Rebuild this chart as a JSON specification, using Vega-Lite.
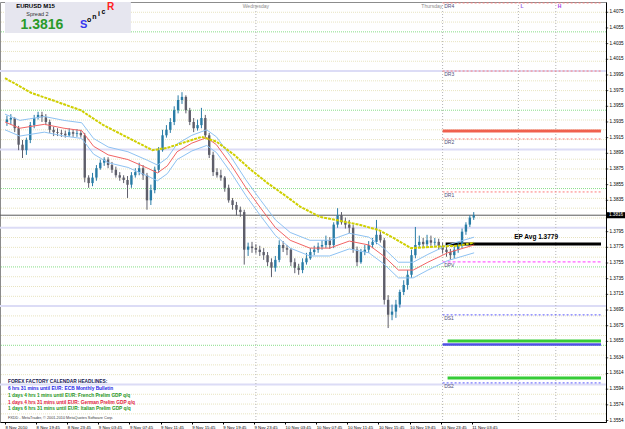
{
"$schema": "https://vega.github.io/schema/vega-lite/v6.json",
"width": 606, "height": 420,
"autosize": {"type": "none"},
"padding": {"left": 0, "top": 2, "right": 19, "bottom": 7},
"background": "white",
"config": {"view": {"stroke": "#8c8c8c", "strokeWidth": 1}, "font": "Liberation Sans",
  "axis": {"labelOverlap": false, "labelSeparation": 0, "labelBound": false, "labelFlush": false}},
"datasets": {
"hl": [
{"p":1.35625,"k":"q"},{"p":1.3575,"k":"q"},{"p":1.35875,"k":"q"},{"p":1.36125,"k":"q"},{"p":1.3625,"k":"q"},{"p":1.36375,"k":"q"},{"p":1.36625,"k":"q"},{"p":1.3675,"k":"q"},{"p":1.36875,"k":"q"},{"p":1.37125,"k":"q"},{"p":1.3725,"k":"q"},{"p":1.37375,"k":"q"},{"p":1.37625,"k":"q"},{"p":1.3775,"k":"q"},{"p":1.37875,"k":"q"},{"p":1.38125,"k":"q"},{"p":1.3825,"k":"q"},{"p":1.38375,"k":"q"},{"p":1.38625,"k":"q"},{"p":1.3875,"k":"q"},{"p":1.38875,"k":"q"},{"p":1.39125,"k":"q"},{"p":1.3925,"k":"q"},{"p":1.39375,"k":"q"},{"p":1.39625,"k":"q"},{"p":1.3975,"k":"q"},{"p":1.39875,"k":"q"},{"p":1.40125,"k":"q"},{"p":1.4025,"k":"q"},{"p":1.40375,"k":"q"},{"p":1.40625,"k":"q"},{"p":1.4075,"k":"q"},
{"p":1.3650,"k":"g"},{"p":1.3750,"k":"g"},{"p":1.3850,"k":"g"},{"p":1.3950,"k":"g"},{"p":1.4050,"k":"g"},
{"p":1.3600,"k":"v"},{"p":1.3700,"k":"v"},{"p":1.3800,"k":"v"},{"p":1.3900,"k":"v"},{"p":1.4000,"k":"v"},
{"p":1.3816,"k":"bid"}
],
"pl": [
{"p":1.40869,"t0":72,"k":"dr"},{"p":1.4000,"t0":72,"k":"dr"},{"p":1.39133,"t0":72,"k":"dr"},{"p":1.38457,"t0":72,"k":"dr"},
{"p":1.37564,"t0":72,"k":"dp"},{"p":1.36888,"t0":72,"k":"ds"},{"p":1.3602,"t0":72,"k":"ds"},
{"p":1.39235,"t0":72,"k":"sal"},{"p":1.3651,"t0":72,"k":"blu"},
{"p":1.36556,"t0":72.64,"k":"grn"},{"p":1.36084,"t0":72.64,"k":"grn"},
{"p":1.37794,"t0":72.39,"k":"blk"}
],
"vl": [{"t":48},{"t":72},{"t":81.74},{"t":86.55}],
"plab": [
{"t":72.2,"p":1.40869,"s":"DR4"},{"t":72.2,"p":1.4000,"s":"DR3"},{"t":72.2,"p":1.39133,"s":"DR2"},{"t":72.2,"p":1.38457,"s":"DR1"},
{"t":72.2,"p":1.37564,"s":"DPV"},{"t":72.2,"p":1.36888,"s":"DS1"},{"t":72.2,"p":1.3602,"s":"DS2"}
],
"yticks": [
{"p":1.3554},{"p":1.3574},{"p":1.3594},{"p":1.3614},{"p":1.3634},{"p":1.3655},{"p":1.3675},{"p":1.3695},{"p":1.3715},{"p":1.3735},{"p":1.3755},{"p":1.3775},{"p":1.3795},{"p":1.3835},{"p":1.3855},{"p":1.3875},{"p":1.3895},{"p":1.3915},{"p":1.3935},{"p":1.3955},{"p":1.3975},{"p":1.3995},{"p":1.4015},{"p":1.4035},{"p":1.4055},{"p":1.4075}
],
"candles": [
{"t":16.0,"o":1.3935,"h":1.3943,"l":1.3930,"c":1.3938},
{"t":16.5,"o":1.3938,"h":1.3945,"l":1.3932,"c":1.3940},
{"t":17.0,"o":1.3940,"h":1.3941,"l":1.3922,"c":1.3927},
{"t":17.5,"o":1.3927,"h":1.3930,"l":1.3899,"c":1.3906},
{"t":18.0,"o":1.3906,"h":1.3912,"l":1.3889,"c":1.3899},
{"t":18.5,"o":1.3899,"h":1.3915,"l":1.3893,"c":1.3912},
{"t":19.0,"o":1.3912,"h":1.3935,"l":1.3908,"c":1.3931},
{"t":19.5,"o":1.3931,"h":1.3944,"l":1.3927,"c":1.3940},
{"t":20.0,"o":1.3940,"h":1.3948,"l":1.3938,"c":1.3944},
{"t":20.5,"o":1.3944,"h":1.3948,"l":1.3935,"c":1.3941},
{"t":21.0,"o":1.3941,"h":1.3945,"l":1.3931,"c":1.3935},
{"t":21.5,"o":1.3935,"h":1.3938,"l":1.3921,"c":1.3925},
{"t":22.0,"o":1.3925,"h":1.3929,"l":1.3917,"c":1.3922},
{"t":22.5,"o":1.3922,"h":1.3927,"l":1.3917,"c":1.3921},
{"t":23.0,"o":1.3921,"h":1.3925,"l":1.3916,"c":1.3920},
{"t":23.5,"o":1.3920,"h":1.3924,"l":1.3915,"c":1.3918},
{"t":24.0,"o":1.3918,"h":1.3927,"l":1.3916,"c":1.3922},
{"t":24.5,"o":1.3922,"h":1.3926,"l":1.3916,"c":1.3920},
{"t":25.0,"o":1.3920,"h":1.3926,"l":1.3916,"c":1.3921},
{"t":25.5,"o":1.3921,"h":1.3925,"l":1.3915,"c":1.3918},
{"t":26.0,"o":1.3918,"h":1.3921,"l":1.3858,"c":1.3864},
{"t":26.5,"o":1.3864,"h":1.3867,"l":1.3851,"c":1.3857},
{"t":27.0,"o":1.3857,"h":1.3870,"l":1.3853,"c":1.3864},
{"t":27.5,"o":1.3864,"h":1.3880,"l":1.3860,"c":1.3876},
{"t":28.0,"o":1.3876,"h":1.3887,"l":1.3874,"c":1.3883},
{"t":28.5,"o":1.3883,"h":1.3890,"l":1.3879,"c":1.3887},
{"t":29.0,"o":1.3887,"h":1.3890,"l":1.3876,"c":1.3880},
{"t":29.5,"o":1.3880,"h":1.3884,"l":1.3870,"c":1.3874},
{"t":30.0,"o":1.3874,"h":1.3878,"l":1.3864,"c":1.3867},
{"t":30.5,"o":1.3867,"h":1.3871,"l":1.3860,"c":1.3864},
{"t":31.0,"o":1.3864,"h":1.3867,"l":1.3857,"c":1.3861},
{"t":31.5,"o":1.3861,"h":1.3866,"l":1.3838,"c":1.3855},
{"t":32.0,"o":1.3855,"h":1.3871,"l":1.3851,"c":1.3867},
{"t":32.5,"o":1.3867,"h":1.3876,"l":1.3864,"c":1.3871},
{"t":33.0,"o":1.3871,"h":1.3883,"l":1.3867,"c":1.3876},
{"t":33.5,"o":1.3876,"h":1.3880,"l":1.3861,"c":1.3867},
{"t":34.0,"o":1.3867,"h":1.3870,"l":1.3823,"c":1.3835},
{"t":34.5,"o":1.3835,"h":1.3855,"l":1.3829,"c":1.3848},
{"t":35.0,"o":1.3848,"h":1.3878,"l":1.3844,"c":1.3874},
{"t":35.5,"o":1.3874,"h":1.3903,"l":1.3870,"c":1.3899},
{"t":36.0,"o":1.3899,"h":1.3925,"l":1.3897,"c":1.3918},
{"t":36.5,"o":1.3918,"h":1.3931,"l":1.3915,"c":1.3925},
{"t":37.0,"o":1.3925,"h":1.3940,"l":1.3921,"c":1.3935},
{"t":37.5,"o":1.3935,"h":1.3955,"l":1.3931,"c":1.3950},
{"t":38.0,"o":1.3950,"h":1.3969,"l":1.3946,"c":1.3963},
{"t":38.5,"o":1.3963,"h":1.3973,"l":1.3958,"c":1.3967},
{"t":39.0,"o":1.3967,"h":1.3969,"l":1.3946,"c":1.3950},
{"t":39.5,"o":1.3950,"h":1.3953,"l":1.3931,"c":1.3935},
{"t":40.0,"o":1.3935,"h":1.3940,"l":1.3922,"c":1.3927},
{"t":40.5,"o":1.3927,"h":1.3938,"l":1.3924,"c":1.3931},
{"t":41.0,"o":1.3931,"h":1.3953,"l":1.3927,"c":1.3940},
{"t":41.5,"o":1.3940,"h":1.3944,"l":1.3915,"c":1.3918},
{"t":42.0,"o":1.3918,"h":1.3921,"l":1.3889,"c":1.3893},
{"t":42.5,"o":1.3893,"h":1.3897,"l":1.3866,"c":1.3871},
{"t":43.0,"o":1.3871,"h":1.3876,"l":1.3864,"c":1.3867},
{"t":43.5,"o":1.3867,"h":1.3874,"l":1.3860,"c":1.3864},
{"t":44.0,"o":1.3864,"h":1.3866,"l":1.3846,"c":1.3851},
{"t":44.5,"o":1.3851,"h":1.3855,"l":1.3832,"c":1.3835},
{"t":45.0,"o":1.3835,"h":1.3838,"l":1.3823,"c":1.3829},
{"t":45.5,"o":1.3829,"h":1.3833,"l":1.3816,"c":1.3823},
{"t":46.0,"o":1.3823,"h":1.3827,"l":1.3814,"c":1.3820},
{"t":46.5,"o":1.3820,"h":1.3823,"l":1.3753,"c":1.3772},
{"t":47.0,"o":1.3772,"h":1.3781,"l":1.3764,"c":1.3776},
{"t":47.5,"o":1.3776,"h":1.3782,"l":1.3768,"c":1.3774},
{"t":48.0,"o":1.3774,"h":1.3779,"l":1.3767,"c":1.3772},
{"t":48.5,"o":1.3772,"h":1.3777,"l":1.3764,"c":1.3769},
{"t":49.0,"o":1.3769,"h":1.3774,"l":1.3759,"c":1.3765},
{"t":49.5,"o":1.3765,"h":1.3769,"l":1.3751,"c":1.3756},
{"t":50.0,"o":1.3756,"h":1.3761,"l":1.3737,"c":1.3749},
{"t":50.5,"o":1.3749,"h":1.3764,"l":1.3744,"c":1.3759},
{"t":51.0,"o":1.3759,"h":1.3784,"l":1.3756,"c":1.3778},
{"t":51.5,"o":1.3778,"h":1.3783,"l":1.3769,"c":1.3774},
{"t":52.0,"o":1.3774,"h":1.3778,"l":1.3765,"c":1.3772},
{"t":52.5,"o":1.3772,"h":1.3774,"l":1.3751,"c":1.3756},
{"t":53.0,"o":1.3756,"h":1.3761,"l":1.3742,"c":1.3749},
{"t":53.5,"o":1.3749,"h":1.3754,"l":1.3740,"c":1.3746},
{"t":54.0,"o":1.3746,"h":1.3761,"l":1.3742,"c":1.3756},
{"t":54.5,"o":1.3756,"h":1.3768,"l":1.3753,"c":1.3761},
{"t":55.0,"o":1.3761,"h":1.3774,"l":1.3759,"c":1.3769},
{"t":55.5,"o":1.3769,"h":1.3777,"l":1.3765,"c":1.3772},
{"t":56.0,"o":1.3772,"h":1.3781,"l":1.3768,"c":1.3776},
{"t":56.5,"o":1.3776,"h":1.3784,"l":1.3772,"c":1.3778},
{"t":57.0,"o":1.3778,"h":1.3790,"l":1.3774,"c":1.3784},
{"t":57.5,"o":1.3784,"h":1.3788,"l":1.3773,"c":1.3778},
{"t":58.0,"o":1.3778,"h":1.3807,"l":1.3774,"c":1.3804},
{"t":58.5,"o":1.3804,"h":1.3825,"l":1.3800,"c":1.3816},
{"t":59.0,"o":1.3816,"h":1.3820,"l":1.3804,"c":1.3807},
{"t":59.5,"o":1.3807,"h":1.3813,"l":1.3799,"c":1.3804},
{"t":60.0,"o":1.3804,"h":1.3810,"l":1.3793,"c":1.3800},
{"t":60.5,"o":1.3800,"h":1.3804,"l":1.3768,"c":1.3772},
{"t":61.0,"o":1.3772,"h":1.3776,"l":1.3751,"c":1.3756},
{"t":61.5,"o":1.3756,"h":1.3773,"l":1.3754,"c":1.3769},
{"t":62.0,"o":1.3769,"h":1.3778,"l":1.3765,"c":1.3772},
{"t":62.5,"o":1.3772,"h":1.3783,"l":1.3768,"c":1.3778},
{"t":63.0,"o":1.3778,"h":1.3787,"l":1.3774,"c":1.3782},
{"t":63.5,"o":1.3782,"h":1.3810,"l":1.3779,"c":1.3791},
{"t":64.0,"o":1.3791,"h":1.3795,"l":1.3781,"c":1.3784},
{"t":64.5,"o":1.3784,"h":1.3787,"l":1.3702,"c":1.3708},
{"t":65.0,"o":1.3708,"h":1.3714,"l":1.3672,"c":1.3689},
{"t":65.5,"o":1.3689,"h":1.3702,"l":1.3682,"c":1.3693},
{"t":66.0,"o":1.3693,"h":1.3708,"l":1.3685,"c":1.3702},
{"t":66.5,"o":1.3702,"h":1.3721,"l":1.3698,"c":1.3718},
{"t":67.0,"o":1.3718,"h":1.3733,"l":1.3714,"c":1.3727},
{"t":67.5,"o":1.3727,"h":1.3746,"l":1.3721,"c":1.3740},
{"t":68.0,"o":1.3740,"h":1.3772,"l":1.3736,"c":1.3765},
{"t":68.5,"o":1.3765,"h":1.3801,"l":1.3761,"c":1.3778},
{"t":69.0,"o":1.3778,"h":1.3790,"l":1.3774,"c":1.3782},
{"t":69.5,"o":1.3782,"h":1.3787,"l":1.3774,"c":1.3779},
{"t":70.0,"o":1.3779,"h":1.3791,"l":1.3776,"c":1.3784},
{"t":70.5,"o":1.3784,"h":1.3790,"l":1.3777,"c":1.3781},
{"t":71.0,"o":1.3781,"h":1.3787,"l":1.3777,"c":1.3782},
{"t":71.5,"o":1.3782,"h":1.3786,"l":1.3772,"c":1.3777},
{"t":72.0,"o":1.3777,"h":1.3781,"l":1.3767,"c":1.3772},
{"t":72.5,"o":1.3772,"h":1.3777,"l":1.3763,"c":1.3769},
{"t":73.0,"o":1.3769,"h":1.3773,"l":1.3759,"c":1.3765},
{"t":73.5,"o":1.3765,"h":1.3777,"l":1.3761,"c":1.3772},
{"t":74.0,"o":1.3772,"h":1.3782,"l":1.3768,"c":1.3778},
{"t":74.5,"o":1.3778,"h":1.3799,"l":1.3774,"c":1.3795},
{"t":75.0,"o":1.3795,"h":1.3807,"l":1.3791,"c":1.3804},
{"t":75.5,"o":1.3804,"h":1.3816,"l":1.3801,"c":1.3813},
{"t":76.0,"o":1.3813,"h":1.3820,"l":1.3810,"c":1.3816}
],
"mid": [
{"t":15.75,"m":1.3935,"u":1.3945,"lo":1.3925},
{"t":17.65,"m":1.3927,"u":1.3937,"lo":1.3917},
{"t":18.91,"m":1.3929,"u":1.3939,"lo":1.3919},
{"t":20.81,"m":1.3932,"u":1.3942,"lo":1.3922},
{"t":23.34,"m":1.3927,"u":1.3937,"lo":1.3917},
{"t":25.61,"m":1.3924,"u":1.3934,"lo":1.3914},
{"t":27.13,"m":1.3904,"u":1.3914,"lo":1.3894},
{"t":29.02,"m":1.3893,"u":1.3903,"lo":1.3883},
{"t":31.55,"m":1.3887,"u":1.3897,"lo":1.3877},
{"t":34.08,"m":1.3876,"u":1.3886,"lo":1.3866},
{"t":35.35,"m":1.3870,"u":1.3880,"lo":1.3860},
{"t":36.61,"m":1.3879,"u":1.3889,"lo":1.3869},
{"t":37.87,"m":1.3897,"u":1.3907,"lo":1.3887},
{"t":39.77,"m":1.3908,"u":1.3918,"lo":1.3898},
{"t":41.67,"m":1.3915,"u":1.3925,"lo":1.3905},
{"t":42.93,"m":1.3906,"u":1.3916,"lo":1.3896},
{"t":44.83,"m":1.3880,"u":1.3890,"lo":1.3870},
{"t":46.72,"m":1.3851,"u":1.3861,"lo":1.3841},
{"t":48.62,"m":1.3825,"u":1.3835,"lo":1.3815},
{"t":50.52,"m":1.3800,"u":1.3810,"lo":1.3790},
{"t":52.41,"m":1.3784,"u":1.3794,"lo":1.3774},
{"t":54.94,"m":1.3774,"u":1.3784,"lo":1.3764},
{"t":57.47,"m":1.3774,"u":1.3784,"lo":1.3764},
{"t":60.00,"m":1.3783,"u":1.3793,"lo":1.3773},
{"t":62.53,"m":1.3778,"u":1.3788,"lo":1.3768},
{"t":64.42,"m":1.3764,"u":1.3774,"lo":1.3754},
{"t":66.32,"m":1.3746,"u":1.3756,"lo":1.3736},
{"t":68.22,"m":1.3746,"u":1.3756,"lo":1.3736},
{"t":70.11,"m":1.3756,"u":1.3766,"lo":1.3746},
{"t":72.64,"m":1.3768,"u":1.3778,"lo":1.3758},
{"t":76.05,"m":1.3778,"u":1.3788,"lo":1.3768}
],
"slow": [
{"t":15.75,"v":1.3991},{"t":19.16,"v":1.3972},{"t":22.07,"v":1.3962},{"t":25.48,"v":1.3950},{"t":28.39,"v":1.3931},
{"t":31.55,"v":1.3915},{"t":34.71,"v":1.3899},{"t":36.61,"v":1.3902},{"t":38.51,"v":1.3908},{"t":41.03,"v":1.3916},
{"t":42.93,"v":1.3910},{"t":45.21,"v":1.3893},{"t":47.36,"v":1.3874},{"t":49.50,"v":1.3857},{"t":51.78,"v":1.3841},
{"t":53.68,"v":1.3827},{"t":56.21,"v":1.3814},{"t":58.73,"v":1.3809},{"t":61.26,"v":1.3804},{"t":63.79,"v":1.3797},
{"t":65.69,"v":1.3787},{"t":67.96,"v":1.3774},{"t":71.38,"v":1.3776},{"t":73.90,"v":1.3777},{"t":76.05,"v":1.3781}
]
},
"layer": [
{"data": {"name": "hl"}, "transform": [{"filter": "datum.k == 'q'"}],
 "mark": {"type": "rule", "stroke": "#e8e4c0", "strokeWidth": 1, "strokeDash": [1, 1]},
 "encoding": {"y": {"field": "p", "type": "quantitative",
   "scale": {"domain": [1.35521, 1.40881], "nice": false, "zero": false},
   "axis": {"orient": "right", "title": null, "grid": false, "labels": false, "ticks": false, "domainColor": "#000000"}}}},
{"data": {"name": "yticks"},
 "mark": {"type": "tick", "orient": "horizontal", "color": "#000000", "size": 2.5, "thickness": 1, "xOffset": 1},
 "encoding": {"x": {"value": "width"}, "y": {"field": "p", "type": "quantitative"}}},
{"data": {"name": "yticks"},
 "mark": {"type": "text", "align": "left", "baseline": "middle", "dx": 3.5, "fontSize": 4.6, "color": "#000000"},
 "encoding": {"x": {"value": "width"}, "y": {"field": "p", "type": "quantitative"}, "text": {"field": "p", "type": "quantitative", "format": ".4f"}}},
{"data": {"name": "hl"}, "transform": [{"filter": "datum.k == 'g'"}],
 "mark": {"type": "rule", "stroke": "#88dd88", "strokeWidth": 1, "strokeDash": [1, 1]},
 "encoding": {"y": {"field": "p", "type": "quantitative"}}},
{"data": {"name": "hl"}, "transform": [{"filter": "datum.k == 'v'"}],
 "mark": {"type": "rule", "stroke": "#dcdcf6", "strokeWidth": 2},
 "encoding": {"y": {"field": "p", "type": "quantitative"}}},
{"data": {"name": "vl"},
 "mark": {"type": "rule", "stroke": "#b4b4b4", "strokeWidth": 1, "strokeDash": [1, 2]},
 "encoding": {"x": {"field": "t", "type": "quantitative"}}},
{"data": {"name": "pl"}, "transform": [{"filter": "datum.k == 'dr'"}],
 "mark": {"type": "rule", "stroke": "#ff7a7a", "strokeWidth": 1, "strokeDash": [2, 2]},
 "encoding": {"x": {"field": "t0", "type": "quantitative"}, "x2": {"datum": 92.36}, "y": {"field": "p", "type": "quantitative"}}},
{"data": {"name": "pl"}, "transform": [{"filter": "datum.k == 'dp'"}],
 "mark": {"type": "rule", "stroke": "#ff3cff", "strokeWidth": 1, "strokeDash": [3, 2]},
 "encoding": {"x": {"field": "t0", "type": "quantitative"}, "x2": {"datum": 92.36}, "y": {"field": "p", "type": "quantitative"}}},
{"data": {"name": "pl"}, "transform": [{"filter": "datum.k == 'ds'"}],
 "mark": {"type": "rule", "stroke": "#5a5aff", "strokeWidth": 1, "strokeDash": [2, 2]},
 "encoding": {"x": {"field": "t0", "type": "quantitative"}, "x2": {"datum": 92.36}, "y": {"field": "p", "type": "quantitative"}}},
{"data": {"name": "pl"}, "transform": [{"filter": "datum.k == 'sal'"}],
 "mark": {"type": "rule", "stroke": "#f0604e", "strokeWidth": 3},
 "encoding": {"x": {"field": "t0", "type": "quantitative"}, "x2": {"datum": 92.36}, "y": {"field": "p", "type": "quantitative"}}},
{"data": {"name": "pl"}, "transform": [{"filter": "datum.k == 'blu'"}],
 "mark": {"type": "rule", "stroke": "#4f4fe6", "strokeWidth": 2.5},
 "encoding": {"x": {"field": "t0", "type": "quantitative"}, "x2": {"datum": 92.36}, "y": {"field": "p", "type": "quantitative"}}},
{"data": {"name": "pl"}, "transform": [{"filter": "datum.k == 'grn'"}],
 "mark": {"type": "rule", "stroke": "#36cc36", "strokeWidth": 3},
 "encoding": {"x": {"field": "t0", "type": "quantitative"}, "x2": {"datum": 92.36}, "y": {"field": "p", "type": "quantitative"}}},
{"data": {"name": "pl"}, "transform": [{"filter": "datum.k == 'blk'"}],
 "mark": {"type": "rule", "stroke": "#000000", "strokeWidth": 3},
 "encoding": {"x": {"field": "t0", "type": "quantitative"}, "x2": {"datum": 92.36}, "y": {"field": "p", "type": "quantitative"}}},
{"data": {"name": "hl"}, "transform": [{"filter": "datum.k == 'bid'"}],
 "mark": {"type": "rule", "stroke": "#5a5a5a", "strokeWidth": 1},
 "encoding": {"y": {"field": "p", "type": "quantitative"}}},
{"data": {"values": [{}]},
 "mark": {"type": "rect", "fill": "#e6e6ef"},
 "encoding": {"x": {"datum": 15.75}, "x2": {"datum": 31.93}, "y": {"datum": 1.40881}, "y2": {"datum": 1.40486}}},
{"data": {"name": "candles"},
 "mark": {"type": "rule", "strokeWidth": 1},
 "encoding": {
   "x": {"field": "t", "type": "quantitative", "scale": {"domain": [15.75, 92.36], "nice": false, "zero": false},
     "axis": {"orient": "bottom", "title": null, "grid": false,
       "values": [15.75,19.75,23.75,27.75,31.75,35.75,39.75,43.75,47.75,51.75,55.75,59.75,63.75,67.75,71.75,75.75],
       "labelExpr": "datum.value < 16 ? '8 Nov 2010' : (floor(datum.value/24)+8) + ' Nov ' + (floor(datum.value % 24) < 10 ? '0' : '') + floor(datum.value % 24) + ':45'",
       "labelAlign": "left", "labelBaseline": "top", "labelFontSize": 4.3, "labelColor": "#000000", "tickSize": 2,
       "tickColor": "#000000", "domainColor": "#000000", "labelPadding": 1, "labelOverlap": false, "labelBound": false, "labelFlush": false}},
   "y": {"field": "l", "type": "quantitative"}, "y2": {"field": "h"},
   "color": {"condition": {"test": "datum.c >= datum.o", "value": "#2a7ca6"}, "value": "#5e5e6a"}}},
{"data": {"name": "candles"},
 "mark": {"type": "bar", "width": 2.4},
 "encoding": {"x": {"field": "t", "type": "quantitative"}, "y": {"field": "o", "type": "quantitative"}, "y2": {"field": "c"},
   "color": {"condition": {"test": "datum.c >= datum.o", "value": "#2a7ca6"}, "value": "#5e5e6a"}}},
{"data": {"name": "mid"},
 "mark": {"type": "line", "stroke": "#8ec2f2", "strokeWidth": 1},
 "encoding": {"x": {"field": "t", "type": "quantitative"}, "y": {"field": "u", "type": "quantitative"}}},
{"data": {"name": "mid"},
 "mark": {"type": "line", "stroke": "#8ec2f2", "strokeWidth": 1},
 "encoding": {"x": {"field": "t", "type": "quantitative"}, "y": {"field": "lo", "type": "quantitative"}}},
{"data": {"name": "mid"},
 "mark": {"type": "line", "stroke": "#f26464", "strokeWidth": 1},
 "encoding": {"x": {"field": "t", "type": "quantitative"}, "y": {"field": "m", "type": "quantitative"}}},
{"data": {"name": "slow"},
 "mark": {"type": "line", "stroke": "#cfcf00", "strokeWidth": 2, "strokeDash": [3, 1]},
 "encoding": {"x": {"field": "t", "type": "quantitative"}, "y": {"field": "v", "type": "quantitative"}}},
{"data": {"name": "plab"},
 "mark": {"type": "text", "align": "left", "baseline": "top", "dy": 1, "fontSize": 5, "color": "#50507a"},
 "encoding": {"x": {"field": "t", "type": "quantitative"}, "y": {"field": "p", "type": "quantitative"}, "text": {"field": "s"}}},
{"data": {"values": [{}]},
 "mark": {"type": "text", "text": "Wednesday", "fontSize": 5, "color": "#8a8a8a", "align": "center", "baseline": "middle"},
 "encoding": {"x": {"datum": 48}, "y": {"datum": 1.4083}}},
{"data": {"values": [{}]},
 "mark": {"type": "text", "text": "Thursday", "fontSize": 5, "color": "#8a8a8a", "align": "right", "baseline": "middle"},
 "encoding": {"x": {"datum": 71.95}, "y": {"datum": 1.4083}}},
{"data": {"values": [{}]},
 "mark": {"type": "text", "text": "L", "fontSize": 5, "fontWeight": "bold", "color": "#9a62e6", "align": "left", "baseline": "middle"},
 "encoding": {"x": {"datum": 82.0}, "y": {"datum": 1.4083}}},
{"data": {"values": [{}]},
 "mark": {"type": "text", "text": "H", "fontSize": 5, "fontWeight": "bold", "color": "#a040e6", "align": "left", "baseline": "middle"},
 "encoding": {"x": {"datum": 86.8}, "y": {"datum": 1.4083}}},
{"data": {"values": [{}]},
 "mark": {"type": "text", "text": "EP Avg 1.3779", "fontSize": 6.5, "fontWeight": "bold", "color": "#000000", "align": "center", "baseline": "middle"},
 "encoding": {"x": {"datum": 84.02}, "y": {"datum": 1.37883}}},
{"data": {"values": [{}]},
 "mark": {"type": "text", "text": "EURUSD  M15", "fontSize": 6, "fontWeight": "bold", "color": "#000000", "align": "center", "baseline": "middle"},
 "encoding": {"x": {"datum": 19.67}, "y": {"datum": 1.4083}}},
{"data": {"values": [{}]},
 "mark": {"type": "text", "text": "Spread  2", "fontSize": 5.5, "color": "#333333", "align": "center", "baseline": "middle"},
 "encoding": {"x": {"datum": 19.92}, "y": {"datum": 1.40722}}},
{"data": {"values": [{}]},
 "mark": {"type": "text", "text": "1.3816", "fontSize": 14, "fontWeight": "bold", "color": "#2a9a2a", "align": "center", "baseline": "middle"},
 "encoding": {"x": {"datum": 20.49}, "y": {"datum": 1.40588}}},
{"data": {"values": [{}]},
 "mark": {"type": "text", "text": "S", "fontSize": 11, "fontWeight": "bold", "color": "#3535ee", "align": "center", "baseline": "middle"},
 "encoding": {"x": {"datum": 25.86}, "y": {"datum": 1.40582}}},
{"data": {"values": [{}]},
 "mark": {"type": "text", "text": "o", "fontSize": 7, "fontWeight": "bold", "color": "#000000", "align": "center", "baseline": "middle"},
 "encoding": {"x": {"datum": 26.56}, "y": {"datum": 1.40645}}},
{"data": {"values": [{}]},
 "mark": {"type": "text", "text": "n", "fontSize": 7, "fontWeight": "bold", "color": "#000000", "align": "center", "baseline": "middle"},
 "encoding": {"x": {"datum": 27.25}, "y": {"datum": 1.40684}}},
{"data": {"values": [{}]},
 "mark": {"type": "text", "text": "i", "fontSize": 7, "fontWeight": "bold", "color": "#000000", "align": "center", "baseline": "middle"},
 "encoding": {"x": {"datum": 27.82}, "y": {"datum": 1.40722}}},
{"data": {"values": [{}]},
 "mark": {"type": "text", "text": "c", "fontSize": 7, "fontWeight": "bold", "color": "#000000", "align": "center", "baseline": "middle"},
 "encoding": {"x": {"datum": 28.39}, "y": {"datum": 1.40748}}},
{"data": {"values": [{}]},
 "mark": {"type": "text", "text": "R", "fontSize": 10, "fontWeight": "bold", "color": "#ff2020", "align": "center", "baseline": "middle"},
 "encoding": {"x": {"datum": 29.34}, "y": {"datum": 1.40811}}},
{"data": {"values": [{}]},
 "mark": {"type": "text", "text": "FOREX FACTORY CALENDAR HEADLINES:", "fontSize": 4.8, "fontWeight": "bold", "color": "#141450", "align": "left", "baseline": "middle"},
 "encoding": {"x": {"datum": 16.13}, "y": {"datum": 1.36033}}},
{"data": {"values": [{}]},
 "mark": {"type": "text", "text": "6 hrs 31 mins until EUR: ECB Monthly Bulletin", "fontSize": 4.8, "fontWeight": "bold", "color": "#1c1ce6", "align": "left", "baseline": "middle"},
 "encoding": {"x": {"datum": 16.13}, "y": {"datum": 1.35943}}},
{"data": {"values": [{}]},
 "mark": {"type": "text", "text": "1 days 4 hrs 1 mins until EUR: French Prelim GDP q/q", "fontSize": 4.8, "fontWeight": "bold", "color": "#1c961c", "align": "left", "baseline": "middle"},
 "encoding": {"x": {"datum": 16.13}, "y": {"datum": 1.35854}}},
{"data": {"values": [{}]},
 "mark": {"type": "text", "text": "1 days 4 hrs 31 mins until EUR: German Prelim GDP q/q", "fontSize": 4.8, "fontWeight": "bold", "color": "#e0203c", "align": "left", "baseline": "middle"},
 "encoding": {"x": {"datum": 16.13}, "y": {"datum": 1.35765}}},
{"data": {"values": [{}]},
 "mark": {"type": "text", "text": "1 days 6 hrs 31 mins until EUR: Italian Prelim GDP q/q", "fontSize": 4.8, "fontWeight": "bold", "color": "#1c961c", "align": "left", "baseline": "middle"},
 "encoding": {"x": {"datum": 16.13}, "y": {"datum": 1.35688}}},
{"data": {"values": [{}]},
 "mark": {"type": "text", "text": "FXDD - MetaTrader, © 2001-2010 MetaQuotes Software Corp.", "fontSize": 3.8, "color": "#404040", "align": "left", "baseline": "middle"},
 "encoding": {"x": {"datum": 16.13}, "y": {"datum": 1.35573}}},
{"data": {"values": [{"p": 1.3816}]},
 "mark": {"type": "point", "shape": "M0,-0.16L1,-0.16L1,0.16L0,0.16Z", "filled": true, "size": 1444, "color": "#000000", "opacity": 1},
 "encoding": {"x": {"value": "width"}, "y": {"field": "p", "type": "quantitative"}}},
{"data": {"values": [{"p": 1.3816}]},
 "mark": {"type": "text", "text": "1.3816", "fontSize": 4.6, "color": "#ffffff", "align": "left", "baseline": "middle", "dx": 3},
 "encoding": {"x": {"value": "width"}, "y": {"field": "p", "type": "quantitative"}}}
]
}
